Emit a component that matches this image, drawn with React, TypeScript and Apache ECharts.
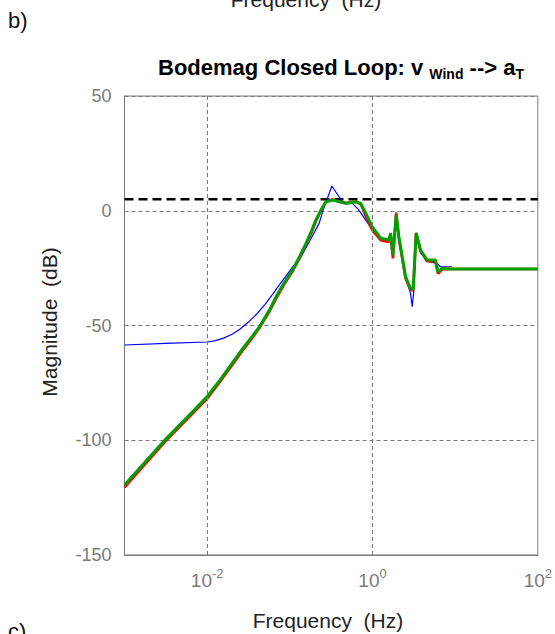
import { useEffect, useRef } from "react";
import * as echarts from "echarts";

// Frequency grid (Hz) shared by the two closed-loop responses
const freqHz = [
  0.001, 0.00178, 0.00316, 0.00562, 0.01, 0.0141, 0.02, 0.027, 0.0355, 0.043,
  0.0562, 0.0682, 0.0851, 0.108, 0.132, 0.157, 0.182, 0.207, 0.24, 0.273,
  0.328, 0.475, 0.628, 0.721, 0.828, 0.995, 1.256, 1.58, 1.656, 1.766, 1.936,
  2.084, 2.512, 2.884, 3.105, 3.373, 3.81, 4.571, 5.768, 6.209, 6.934, 7.94, 100,
];
// Closed loop, controller A (green)
const magGreen = [
  -119.5, -109.5, -99.5, -90.3, -81, -74, -66.5, -60, -54.5, -50.5,
  -43.5, -37.5, -31.5, -25.8, -19.8, -14.2, -9, -4.0, 0.5, 3.9,
  4.7, 3.2, 3.9, 3.2, -1.1, -7.0, -12.0, -12.7, -9.8, -19.3, -1.9,
  -11.3, -28.7, -33.8, -34.5, -9.8, -17.1, -21.5, -21.5, -26.6, -25.1, -25.4, -25.4,
];
// Closed loop, controller B (red)
const magRed = [
  -120.5, -110.4, -100.3, -91.1, -81.9, -74.8, -67.3, -60.8, -55.2, -51,
  -44.2, -38.3, -32.2, -26.4, -20.4, -14.8, -9.7, -4.6, 0.2, 4.0,
  4.9, 3.4, 3.9, 3.0, -2.5, -8.5, -12.8, -13.6, -10.5, -20.8, -0.8,
  -12, -29.5, -34.5, -34.8, -9.6, -17.5, -22, -22, -27.4, -25.6, -25.4, -25.4,
];
// Baseline closed loop (blue)
const blueFreqHz = [
  0.001, 0.00316, 0.01, 0.0126, 0.0158, 0.02, 0.0251, 0.0316, 0.0398, 0.0501,
  0.0631, 0.0794, 0.1, 0.108, 0.13, 0.172, 0.226, 0.261, 0.285, 0.322, 0.394,
  0.433, 0.571, 0.675, 0.908, 1.256, 1.58, 1.656, 1.766, 1.936, 2.084, 2.512,
  2.884, 3.02, 3.16, 3.373, 3.81, 4.8, 6.04, 6.64, 9.14,
];
const magBlue = [
  -58.5, -57.8, -57.2, -56.6, -55.5, -53.8, -51.5, -48.5, -45, -40.8,
  -36, -31, -26.2, -24.4, -21.5, -13.5, -5.5, 1.8, 5.4, 10.8, 6.1,
  3.9, 3.2, 0.6, -6.2, -12.5, -13, -10.5, -19, -3, -11.5, -29,
  -36, -41.8, -35, -10.5, -18.4, -22.2, -22.9, -24.4, -24.4,
];
// Magnitude limit line
const limitFreqHz = [0.001, 100];
const limitMag = [5, 5];
// Vertical grid lines (Hz)
const gridFreqHz = [0.01, 1];

const zip = (xs: number[], ys: number[]) => xs.map((x, i) => [x, ys[i]]);

const GRAY = "#7a7a7a";
const FONT = "Arial, 'Liberation Sans', sans-serif";

export default function App() {
  const ref = useRef<HTMLDivElement>(null);

  useEffect(() => {
    if (!ref.current) return;
    const chart = echarts.init(ref.current, undefined, { renderer: "svg" });
    chart.setOption({
      animation: false,
      backgroundColor: "#ffffff",
      textStyle: { fontFamily: FONT },
      grid: {
        left: 124.5,
        right: 15.5,
        top: 96,
        bottom: 79,
        show: true,
        borderColor: GRAY,
        borderWidth: 1,
        backgroundColor: "transparent",
      },
      graphic: [
        {
          type: "text",
          left: 8,
          top: 9,
          style: { text: "b)", font: `22px ${FONT}`, fill: "#111" },
        },
        {
          type: "text",
          x: 306,
          y: -1,
          style: {
            text: "Frequency  (Hz)",
            font: `21px ${FONT}`,
            fill: "#222",
            align: "center",
            verticalAlign: "middle",
          },
        },
        {
          type: "text",
          x: 8,
          y: 631,
          style: { text: "c)", font: `22px ${FONT}`, fill: "#111", verticalAlign: "middle" },
        },
        {
          type: "text",
          x: 341,
          y: 67,
          style: {
            text: "{m|Bodemag Closed Loop: v }{s|Wind}{m| --> a}{s|T}",
            align: "center",
            verticalAlign: "middle",
            rich: {
              m: { font: `bold 22px ${FONT}`, fill: "#000", lineHeight: 26 },
              s: { font: `bold 14px ${FONT}`, fill: "#000", lineHeight: 26, padding: [13, 0, 0, 0] },
            },
          },
        },
        {
          type: "text",
          x: 49,
          y: 322,
          rotation: Math.PI / 2,
          style: {
            text: "Magnitude  (dB)",
            font: `21px ${FONT}`,
            fill: "#222",
            align: "center",
            verticalAlign: "middle",
          },
        },
        {
          type: "text",
          x: 328,
          y: 620,
          style: {
            text: "Frequency  (Hz)",
            font: `21px ${FONT}`,
            fill: "#222",
            align: "center",
            verticalAlign: "middle",
          },
        },
      ],
      xAxis: {
        type: "log",
        logBase: 10,
        min: 0.001,
        max: 100,
        interval: 1,
        axisLine: { show: true, onZero: false, lineStyle: { color: GRAY, width: 1 } },
        axisTick: { show: false },
        splitLine: { show: false },
        axisLabel: {
          margin: 12,
          hideOverlap: false,
          showMinLabel: true,
          showMaxLabel: true,
          color: GRAY,
          formatter: (v: number) => {
            const e = Math.round(Math.log10(v));
            if (e % 2 !== 0) return "";
            return `{b|10}{e|${e}}`;
          },
          rich: {
            b: { fontSize: 19, color: GRAY, fontFamily: FONT },
            e: { fontSize: 13, color: GRAY, fontFamily: FONT, padding: [0, 0, 13, 0] },
          },
        },
      },
      yAxis: {
        type: "value",
        min: -150,
        max: 50,
        interval: 50,
        axisLine: { show: true, lineStyle: { color: GRAY, width: 1 } },
        axisTick: { show: true, inside: true, length: 4, lineStyle: { color: GRAY } },
        splitLine: { show: true, lineStyle: { color: GRAY, width: 1, type: [4, 3] } },
        axisLabel: { margin: 13, color: GRAY, fontSize: 18, fontFamily: FONT },
      },
      series: [
        {
          type: "line",
          data: zip(limitFreqHz, limitMag),
          symbol: "none",
          lineStyle: { color: "#000", width: 2.6, type: [9, 5] },
          z: 1,
          markLine: {
            silent: true,
            symbol: "none",
            label: { show: false },
            lineStyle: { color: GRAY, width: 1, type: [4, 3] },
            data: gridFreqHz.map((f) => ({ xAxis: f })),
          },
        },
        {
          type: "line",
          data: zip(blueFreqHz, magBlue),
          symbol: "none",
          lineStyle: { color: "#0000ff", width: 1.2 },
          z: 2,
        },
        {
          type: "line",
          data: zip(freqHz, magRed),
          symbol: "none",
          lineStyle: { color: "#ff0000", width: 2.6 },
          z: 3,
        },
        {
          type: "line",
          data: zip(freqHz, magGreen),
          symbol: "none",
          lineStyle: { color: "#00a000", width: 3 },
          z: 4,
        },
      ],
    });
    return () => chart.dispose();
  }, []);

  return (
    <div
      ref={ref}
      style={{ position: "fixed", left: 0, top: 0, width: 555, height: 634, background: "#fff" }}
    />
  );
}
